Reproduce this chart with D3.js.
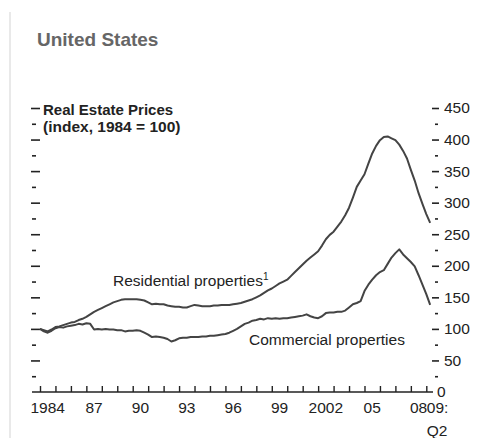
<!DOCTYPE html>
<html>
<head>
<meta charset="utf-8">
<script src="https://cdn.jsdelivr.net/npm/d3@7"></script>
<style>
  body { margin: 0; background: #fff; }
  text { font-family: "Liberation Sans", Arial, sans-serif; fill: #222; }
</style>
</head>
<body>
<svg id="chart" width="486" height="438"></svg>
<script>
// quarterly index values, 1984 Q1 .. 2009 Q2 (1984 = 100)
const residential = [
  100, 98, 96, 99,   103, 104, 106, 108,   110, 111, 114, 116,   119, 123, 127, 130,
  133, 136, 139, 142, 144, 146, 147, 147,   147, 147, 146, 145,   142, 139, 140, 139,
  139, 137, 136, 135, 135, 134, 134, 136,   138, 137, 136, 136,   136, 137, 137, 138,
  138, 138, 139, 140, 141, 143, 145, 147,   150, 153, 157, 161,   164, 168, 172, 175,
  178, 184, 190, 196, 202, 208, 213, 218,   223, 232, 242, 249,   254, 262, 270, 280,
  292, 308, 325, 335, 345, 362, 378, 390,   399, 404, 405, 402,   399, 392, 382, 370,
  352, 335, 315, 298, 282, 268
]
const commercial = [
  100, 96, 94, 97,   101, 103, 102, 104,   105, 106, 108, 107,   109, 108, 99, 100,
  99, 100, 99, 99,   98, 98, 96, 97,      97, 98, 97, 94,       91, 87, 88, 87,
  86, 84, 80, 82,    85, 86, 86, 87,      87, 87, 88, 88,       89, 89, 90, 91,
  92, 94, 97, 100,   104, 108, 110, 113,  114, 116, 115, 117,   116, 117, 116, 117,
  117, 118, 119, 120, 121, 123, 120, 118, 117, 120, 125, 126,   126, 127, 127, 129,
  134, 139, 141, 144, 160, 170, 178, 185, 190, 193, 203, 213,   220, 226, 218, 212,
  206, 199, 185, 170, 155, 138
]
const startYear = 1984
const yearTicks = d3.range(1984, 2010)
const yearLabels = [
  {year: 1984, text: '1984'}, {year: 1987, text: '87'}, {year: 1990, text: '90'},
  {year: 1993, text: '93'}, {year: 1996, text: '96'}, {year: 1999, text: '99'},
  {year: 2002, text: '2002'}, {year: 2005, text: '05'}, {year: 2008, text: '08'}
]
const valueTicks = d3.range(25, 451, 25)

const svg = d3.select('#chart')

const x = d3.scaleLinear().domain([1984, 2009]).range([40, 426.3])
const y = d3.scaleLinear().domain([0, 450]).range([392, 108])

// faint frame line on the left
svg.append('line')
  .attr('x1', 10).attr('x2', 10).attr('y1', 12).attr('y2', 438)
  .attr('stroke', '#e2e2e2').attr('stroke-width', 1.5)

svg.append('text')
  .attr('x', 37).attr('y', 46)
  .style('font-size', '19px').style('font-weight', 'bold').style('fill', '#666')
  .text('United States')

svg.append('text')
  .attr('x', 43).attr('y', 115)
  .style('font-size', '15px').style('font-weight', 'bold')
  .text('Real Estate Prices')
svg.append('text')
  .attr('x', 43).attr('y', 132)
  .style('font-size', '15.5px').style('font-weight', 'bold')
  .text('(index, 1984 = 100)')

// left axis: ticks only
const left = svg.append('g')
  .attr('transform', 'translate(40,0)')
  .call(d3.axisLeft(y).tickValues(valueTicks).tickSize(9).tickFormat(''))
left.select('.domain').remove()
left.selectAll('.tick line')
  .attr('stroke', '#222').attr('stroke-width', 1.6)
  .attr('x1', d => d % 50 ? -4 : 0)
  .attr('x2', d => d % 50 ? -8 : -9)

// right axis
const right = svg.append('g')
  .attr('transform', 'translate(432,0)')
  .call(d3.axisRight(y).tickValues(valueTicks).tickSize(7).tickPadding(5)
    .tickFormat(d => d % 50 ? '' : d))
right.select('.domain').remove()
right.selectAll('.tick line')
  .attr('stroke', '#222').attr('stroke-width', 1.6)
  .attr('x1', d => d % 50 ? 3 : 0)
  .attr('x2', d => d % 50 ? 6 : 7)
right.selectAll('.tick text')
  .attr('x', 12)
  .style('font-size', '15.5px').style('font-family', '"Liberation Sans", Arial, sans-serif')
  .attr('fill', '#222')
svg.append('text')
  .attr('x', 437).attr('y', y(0)).attr('dy', '0.35em')
  .style('font-size', '15.5px')
  .text('0')

// bottom axis
const bottom = svg.append('g')
  .attr('transform', `translate(0,${y(0)})`)
  .call(d3.axisBottom(x).tickValues(yearTicks).tickSizeInner(-6).tickSizeOuter(0).tickFormat(''))
bottom.select('.domain').remove()
bottom.selectAll('.tick line').attr('stroke', '#222').attr('stroke-width', 1.4)
svg.append('line')
  .attr('x1', 32).attr('x2', 433).attr('y1', y(0)).attr('y2', y(0))
  .attr('stroke', '#222').attr('stroke-width', 1.6)

svg.selectAll('.yearlabel')
  .data(yearLabels)
  .enter().append('text')
  .attr('class', 'yearlabel')
  .attr('x', d => x(d.year + 0.5))
  .attr('y', 413)
  .attr('text-anchor', 'middle')
  .style('font-size', '15.5px')
  .text(d => d.text)
svg.append('text')
  .attr('x', x(2009) + 0.5).attr('y', 413)
  .style('font-size', '15.5px')
  .text('09:')
svg.append('text')
  .attr('x', x(2009) + 0.5).attr('y', 436)
  .style('font-size', '15.5px')
  .text('Q2')

// series
const line = d3.line()
  .x((d, i) => x(startYear + i * 0.25))
  .y(d => y(d))

svg.append('path')
  .datum(residential)
  .attr('d', line)
  .attr('fill', 'none').attr('stroke', '#444').attr('stroke-width', 2)
  .attr('stroke-linejoin', 'round')
svg.append('path')
  .datum(commercial)
  .attr('d', line)
  .attr('fill', 'none').attr('stroke', '#444').attr('stroke-width', 2)
  .attr('stroke-linejoin', 'round')

const resLabel = svg.append('text')
  .attr('x', 113).attr('y', 286)
  .style('font-size', '15.5px')
  .text('Residential properties')
resLabel.append('tspan')
  .attr('dy', -6)
  .style('font-size', '10px')
  .text('1')

svg.append('text')
  .attr('x', 249).attr('y', 345)
  .style('font-size', '15.5px')
  .text('Commercial properties')
</script>
</body>
</html>
